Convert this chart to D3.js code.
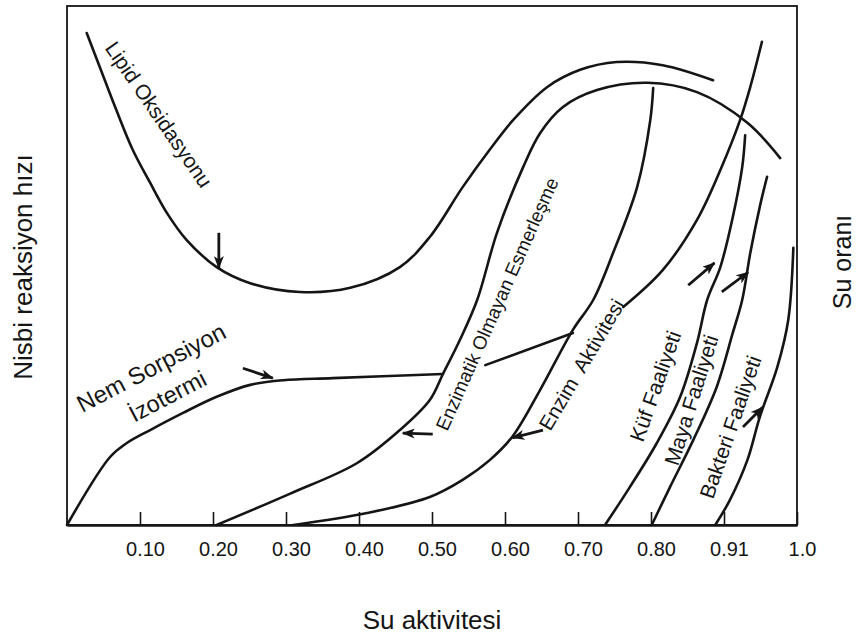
<!DOCTYPE html>
<html>
<head>
<meta charset="utf-8">
<title>Su aktivitesi</title>
<script src="https://d3js.org/d3.v7.min.js"></script>
<style>
  body { margin: 0; background: #fff; }
  text { font-family: "Liberation Sans", Arial, Helvetica, sans-serif; fill: #151515; }
</style>
</head>
<body>
<svg id="chart" width="858" height="639"></svg>
<script>

// x axis ticks (su aktivitesi)
var tickVals = [0.1, 0.2, 0.3, 0.4, 0.5, 0.6, 0.7, 0.8, 0.9, 1.0];
var tickLabels = ["0.10", "0.20", "0.30", "0.40", "0.50", "0.60", "0.70", "0.80", "0.91", "1.0"];

// curves: [su aktivitesi, nisbi hiz]
var lipid = [[0.027,0.948],[0.045,0.882],[0.068,0.798],[0.090,0.723],[0.114,0.659],[0.137,0.601],
  [0.164,0.549],[0.205,0.497],[0.251,0.466],[0.319,0.449],[0.388,0.457],[0.456,0.497],[0.497,0.555],
  [0.542,0.651],[0.579,0.723],[0.611,0.780],[0.658,0.844],[0.703,0.877],[0.753,0.892],[0.816,0.886],[0.885,0.857]];

// nem sorpsiyon izotermi, broken where the labels cross it
var izoterm1 = [[0.0,0.0],[0.059,0.131],[0.082,0.158],[0.114,0.183],[0.159,0.216],[0.205,0.247],
  [0.251,0.270],[0.296,0.279],[0.364,0.283],[0.515,0.291]];
var izoterm2 = [[0.573,0.308],[0.693,0.370]];
var izoterm3 = [[0.762,0.420],[0.816,0.491],[0.863,0.588],[0.895,0.684],[0.922,0.780],[0.936,0.844],[0.952,0.931]];

var esmerlesme = [[0.205,0.0],[0.305,0.060],[0.397,0.119],[0.456,0.183],[0.497,0.241],[0.515,0.291],
  [0.538,0.356],[0.562,0.434],[0.589,0.563],[0.625,0.690],[0.648,0.755],[0.679,0.805],[0.726,0.838],
  [0.795,0.852],[0.863,0.834],[0.932,0.775],[0.977,0.707]];

var enzim = [[0.310,0.0],[0.411,0.023],[0.497,0.054],[0.542,0.087],[0.579,0.125],[0.610,0.170],
  [0.648,0.260],[0.693,0.376],[0.721,0.434],[0.748,0.524],[0.781,0.651],[0.799,0.780],[0.803,0.842]];

var kuf = [[0.737,0.0],[0.771,0.073],[0.808,0.158],[0.840,0.247],[0.863,0.351],[0.877,0.434],
  [0.895,0.497],[0.912,0.593],[0.925,0.690],[0.929,0.751]];
var maya = [[0.801,0.0],[0.826,0.073],[0.858,0.164],[0.890,0.266],[0.912,0.370],[0.925,0.434],
  [0.936,0.524],[0.949,0.613],[0.959,0.671]];
var bakteri = [[0.888,0.0],[0.908,0.048],[0.932,0.125],[0.949,0.208],[0.973,0.304],[0.988,0.395],[0.995,0.534]];

var curves = [lipid, izoterm1, izoterm2, izoterm3, esmerlesme, enzim, kuf, maya, bakteri];

// arrows: from -> to
var arrows = [
  {from: [0.208,0.563], to: [0.208,0.495]},
  {from: [0.241,0.302], to: [0.282,0.283]},
  {from: [0.501,0.175], to: [0.460,0.177]},
  {from: [0.652,0.183], to: [0.610,0.168]},
  {from: [0.851,0.462], to: [0.887,0.505]},
  {from: [0.897,0.449], to: [0.933,0.487]},
  {from: [0.926,0.189], to: [0.953,0.227]}
];

// curve labels, anchored at start of baseline
var labels = [
  {text: "Lipid Oksidasyonu", at: [0.051,0.919], angle: 55.5},
  {text: "Nem Sorpsiyon", at: [0.021,0.216], angle: -27.5},
  {text: "İzotermi", at: [0.092,0.197], angle: -27.5},
  {text: "Enzimatik Olmayan Esmerleşme", at: [0.521,0.179], angle: -66},
  {text: "Enzim  Aktivitesi", at: [0.662,0.179], angle: -59.5},
  {text: "Küf Faaliyeti", at: [0.789,0.158], angle: -70.5},
  {text: "Maya Faaliyeti", at: [0.837,0.112], angle: -72.5},
  {text: "Bakteri Faaliyeti", at: [0.885,0.048], angle: -71}
];

var svg = d3.select("#chart");

var x = d3.scaleLinear().domain([0, 1]).range([67, 797]);
var y = d3.scaleLinear().domain([0, 1]).range([525, 6]);

var ink = "#151515";

// label font sizes
var labelSize = {
  "Nem Sorpsiyon": 24, "İzotermi": 23.5,
  "Enzimatik Olmayan Esmerleşme": 19, "Enzim  Aktivitesi": 20.5
};

// arrow head
svg.append("defs").append("marker")
    .attr("id", "head")
    .attr("markerUnits", "userSpaceOnUse")
    .attr("viewBox", "0 0 13 10")
    .attr("markerWidth", 13)
    .attr("markerHeight", 10)
    .attr("refX", 12)
    .attr("refY", 5)
    .attr("orient", "auto")
  .append("path")
    .attr("d", "M0,0 L13,5 L0,10 L3.5,5 Z")
    .attr("fill", ink);

// frame
svg.append("rect")
    .attr("x", x(0))
    .attr("y", y(1))
    .attr("width", x(1) - x(0))
    .attr("height", y(0) - y(1))
    .attr("fill", "none")
    .attr("stroke", ink)
    .attr("stroke-width", 1.8);

// x axis with ticks pointing inward
var xAxis = svg.append("g")
    .attr("transform", "translate(0," + y(0) + ")")
    .call(d3.axisBottom(x)
      .tickValues(tickVals)
      .tickFormat(function(d, i) { return tickLabels[i]; })
      .tickSizeInner(-13)
      .tickSizeOuter(0)
      .tickPadding(17));
xAxis.select(".domain")
    .attr("stroke", ink)
    .attr("stroke-width", 2.4);
xAxis.selectAll(".tick line")
    .attr("stroke", ink)
    .attr("stroke-width", 1.6);
xAxis.selectAll(".tick text")
    .attr("fill", ink)
    .attr("dx", 5)
    .style("font-size", "20px")
    .style("font-family", "'Liberation Sans', Arial, sans-serif");

// curves
var line = d3.line()
    .x(function(d) { return x(d[0]); })
    .y(function(d) { return y(d[1]); })
    .curve(d3.curveCatmullRom.alpha(0.5));

svg.append("g").selectAll("path")
    .data(curves)
    .enter().append("path")
    .attr("d", line)
    .attr("fill", "none")
    .attr("stroke", ink)
    .attr("stroke-width", 2.6)
    .attr("stroke-linecap", "round");

// arrows
svg.append("g").selectAll("line")
    .data(arrows)
    .enter().append("line")
    .attr("x1", function(d) { return x(d.from[0]); })
    .attr("y1", function(d) { return y(d.from[1]); })
    .attr("x2", function(d) { return x(d.to[0]); })
    .attr("y2", function(d) { return y(d.to[1]); })
    .attr("stroke", ink)
    .attr("stroke-width", 2.8)
    .attr("marker-end", "url(#head)");

// curve labels
svg.append("g").selectAll("text")
    .data(labels)
    .enter().append("text")
    .attr("transform", function(d) {
      return "translate(" + x(d.at[0]) + "," + y(d.at[1]) + ") rotate(" + d.angle + ")";
    })
    .style("font-size", function(d) { return (labelSize[d.text] || 21) + "px"; })
    .style("white-space", "pre")
    .text(function(d) { return d.text; });

// axis titles
svg.append("text")
    .attr("x", 432)
    .attr("y", 629)
    .attr("text-anchor", "middle")
    .style("font-size", "26px")
    .text("Su aktivitesi");

svg.append("text")
    .attr("transform", "translate(32,267) rotate(-90)")
    .attr("text-anchor", "middle")
    .style("font-size", "26px")
    .text("Nisbi reaksiyon hızı");

svg.append("text")
    .attr("transform", "translate(851,262) rotate(-90)")
    .attr("text-anchor", "middle")
    .style("font-size", "25px")
    .text("Su oranı");

</script>
</body>
</html>
